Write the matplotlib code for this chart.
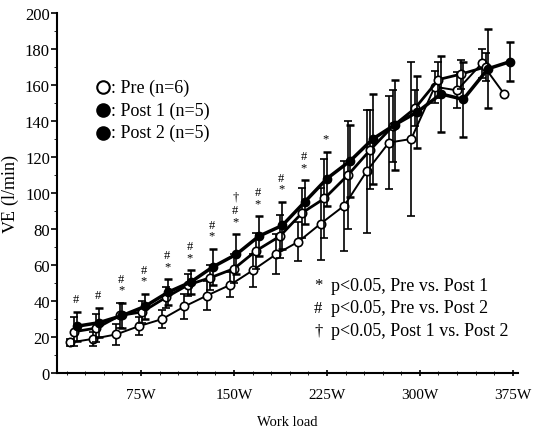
import numpy as np
import matplotlib
matplotlib.use("Agg")
import matplotlib.pyplot as plt
from matplotlib.lines import Line2D

plt.rcParams['font.family'] = ['Liberation Serif', 'DejaVu Serif']
plt.rcParams['mathtext.fontset'] = 'stix'

# work load stages (W) and mean +/- SD of VE (l/min)
stage_w = [18, 36, 55, 73, 92, 110, 128, 147, 165, 184,
           202, 220, 239, 257, 275, 293, 312, 330, 350, 368]

pre = [17, 19, 21.5, 26, 30, 37, 43, 49, 57, 66,
       73, 83, 93, 112, 128, 130, 159, 157, 172, 155]
pre_sd = [2, 4, 6, 5, 5, 7, 8, 7, 9, 11,
          11, 20, 25, 34, 26, 43, 9, 10, 8, 0]

post2 = [23, 25, 32, 34, 42, 49, 53, 58, 68, 76,
         89, 97, 110, 124, 137, 147, 163, 166, 170, np.nan]
post2_sd = [8, 8, 7, 6, 6, 6, 7, 8, 10, 12,
            14, 22, 30, 22, 20, 10, 10, 8, 8, 0]

post1 = [26, 28, 32, 37, 45, 50.5, 59, 66, 76, 82,
         95, 108, 118, 130, 138, 145, 155, 152, 169, 173]
post1_sd = [8, 8, 7, 7, 7, 6.5, 10, 11, 11, 13,
            12, 15, 20, 25, 25, 20, 21, 21, 22, 11]

# significance marks per stage
sig = ['#', '#', '*#', '*#', '*#', '*#', '*#', '*#\u2020', '*#', '*#',
       '*#', '*', '', '', '', '', '', '', '', '']

xticks = [75, 150, 225, 300, 375]
xtick_labels = ['75W', '150W', '225W', '300W', '375W']

fig = plt.figure(figsize=(5.36, 4.35), dpi=100)
ax = fig.add_axes([0.106, 0.14, 0.86, 0.828])

x = np.array(stage_w, dtype=float)
eb = dict(ecolor='black', elinewidth=1.2, capsize=3, capthick=1.8)

ax.errorbar(x, pre, yerr=pre_sd, color='black', lw=1.4, marker='o', ms=6,
            mfc='white', mec='black', mew=1.2, zorder=3, **eb)
ax.errorbar(x + 3, post2, yerr=post2_sd, color='black', lw=2.0, marker='o', ms=6,
            mfc='white', mec='black', mew=1.2, zorder=4, **eb)
ax.errorbar(x + 5, post1, yerr=post1_sd, color='black', lw=2.5, marker='o', ms=6,
            mfc='black', mec='black', zorder=5, **eb)

# significance symbols above the Post 1 error bar
for i, s in enumerate(sig):
    if not s:
        continue
    top = post1[i] + post1_sd[i] + 4
    off = 0
    for ch in s:
        ax.annotate(ch, (x[i] + 4, top), xytext=(0, off), textcoords='offset points',
                    ha='center', va='bottom', fontsize=9)
        off += 8 if ch != '#' else 10

ax.set_xlim(7, 379)
ax.set_ylim(0, 200)
ax.set_xticks(xticks)
ax.set_xticklabels(xtick_labels, fontsize=11)
ax.set_xticks(np.arange(15, 376, 15), minor=True)
ax.set_yticks(np.arange(0, 201, 20))
ax.set_yticks(np.arange(0, 201, 10), minor=True)
ax.tick_params(axis='y', labelsize=12, direction='out', length=4, width=1.2, pad=1)
ax.tick_params(axis='y', which='minor', direction='out', length=2)
ax.tick_params(axis='x', direction='inout', length=5, width=1.2, pad=8)
ax.tick_params(axis='x', which='minor', direction='inout', length=3)
for side in ['top', 'right']:
    ax.spines[side].set_visible(False)
for side in ['left', 'bottom']:
    ax.spines[side].set_linewidth(1.5)

ax.set_xlabel('Work load', fontsize=10.5, labelpad=10)
ax.set_ylabel(r'$\dot{\mathrm{V}}$E (l/min)', fontsize=13, labelpad=2)

# group legend
legend_rows = [('white', ': Pre (n=6)'), ('black', ': Post 1 (n=5)'), ('black', ': Post 2 (n=5)')]
for j, (fc, label) in enumerate(legend_rows):
    yy = 0.797 - j * 0.052
    fig.add_artist(Line2D([0.193], [yy], marker='o', ms=9, mfc=fc, mec='black',
                          mew=1.5, transform=fig.transFigure))
    fig.text(0.207, yy, label, fontsize=13, va='center', ha='left')

# significance legend
sig_rows = [('*', 'p<0.05, Pre vs. Post 1'), ('#', 'p<0.05, Pre vs. Post 2'),
            ('\u2020', 'p<0.05, Post 1 vs. Post 2')]
for j, (sym, label) in enumerate(sig_rows):
    yy = 0.342 - j * 0.052
    fig.text(0.594, yy, sym, fontsize=12, va='center', ha='center')
    fig.text(0.618, yy, label, fontsize=13, va='center', ha='left')

fig.savefig('out.png', dpi=100)
